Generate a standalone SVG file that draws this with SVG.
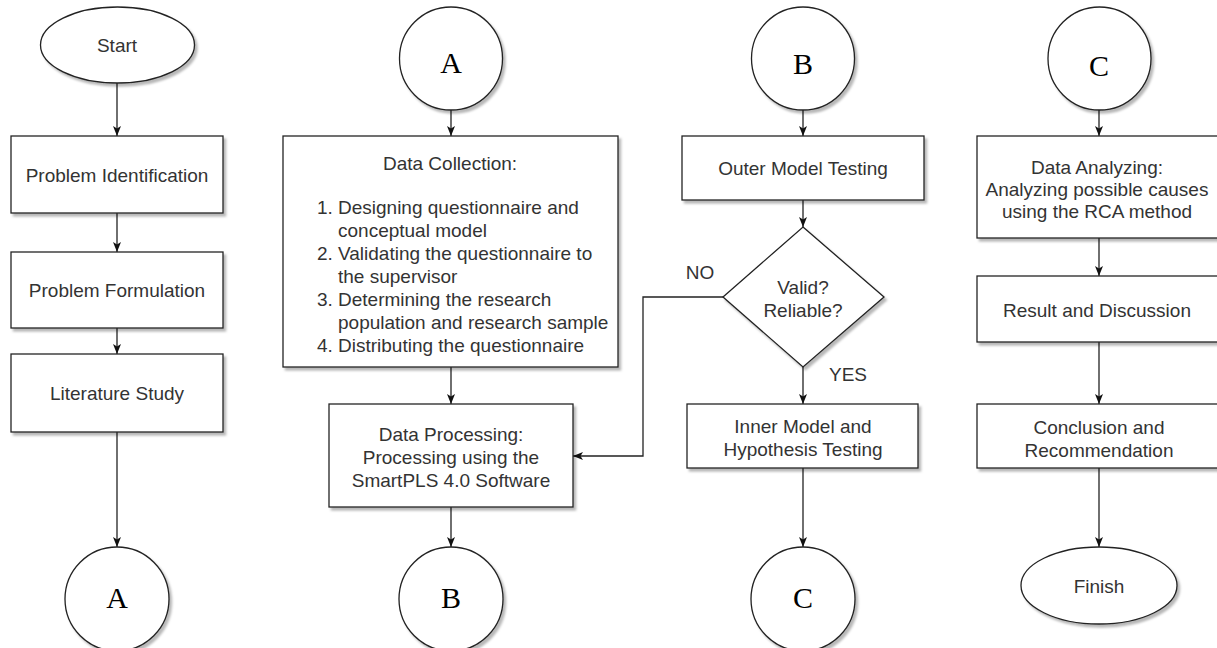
<svg xmlns="http://www.w3.org/2000/svg" width="1217" height="648" viewBox="0 0 1217 648">
<style>
.shape{fill:#fff;stroke:#222;stroke-width:1.3;filter:url(#sh)}
.t{font-family:"Liberation Sans",Arial,sans-serif;font-size:19px;fill:#333;text-anchor:middle}
.tl{font-family:"Liberation Sans",Arial,sans-serif;font-size:19px;fill:#333}
.L{font-family:"Liberation Serif","Times New Roman",serif;font-size:30px;fill:#000;text-anchor:middle}
.c{fill:none;stroke:#222;stroke-width:1.3;marker-end:url(#ah)}
</style>
<defs>
<filter id="sh" x="-10%" y="-10%" width="130%" height="130%">
<feDropShadow dx="2.5" dy="3" stdDeviation="0.8" flood-color="#000" flood-opacity="0.28"/>
</filter>
<marker id="ah" markerUnits="userSpaceOnUse" markerWidth="10" markerHeight="10" viewBox="0 0 10 10" refX="10" refY="5" orient="auto">
<path d="M0,1 L10,5 L0,9 L2.5,5 Z" fill="#111"/>
</marker>
</defs>
<rect width="1217" height="648" fill="#fff"/>
<g id="connectors">
<path class="c" d="M117,83 V136"/>
<path class="c" d="M117,213 V252"/>
<path class="c" d="M117,328 V354"/>
<path class="c" d="M117,432 V547"/>
<path class="c" d="M451,110 V136"/>
<path class="c" d="M451,367 V404"/>
<path class="c" d="M451,507 V547"/>
<path class="c" d="M803,110 V136"/>
<path class="c" d="M803,200 V227"/>
<path class="c" d="M803,367 V404"/>
<path class="c" d="M803,468 V547"/>
<path class="c" d="M723,297 H643 V456 H573"/>
<path class="c" d="M1099,110 V136"/>
<path class="c" d="M1099,238 V276"/>
<path class="c" d="M1099,342 V404"/>
<path class="c" d="M1099,468 V547"/>
<text class="t" x="700" y="279">NO</text>
<text class="t" x="848" y="381">YES</text>
</g>
<g id="start"><ellipse class="shape" cx="117.5" cy="45" rx="77" ry="38"/><text class="t" x="117" y="52">Start</text></g>
<g id="problem-identification"><rect class="shape" x="11" y="136" width="212" height="77"/><text class="t" x="117" y="182">Problem Identification</text></g>
<g id="problem-formulation"><rect class="shape" x="11" y="252" width="212" height="76"/><text class="t" x="117" y="297">Problem Formulation</text></g>
<g id="literature-study"><rect class="shape" x="11" y="354" width="212" height="78"/><text class="t" x="117" y="400">Literature Study</text></g>
<g id="conn-a-out"><circle class="shape" cx="117" cy="599" r="52"/><text class="L" x="117" y="608">A</text></g>

<g id="conn-a-in"><circle class="shape" cx="451" cy="58.5" r="51.5"/><text class="L" x="451" y="73">A</text></g>
<g id="data-collection"><rect class="shape" x="283" y="136" width="335" height="231"/>
<text class="t" x="450" y="170">Data Collection:</text>
<text class="tl" x="317" y="214">1.</text><text class="tl" x="338" y="214">Designing questionnaire and</text>
<text class="tl" x="338" y="237">conceptual model</text>
<text class="tl" x="317" y="260">2.</text><text class="tl" x="338" y="260">Validating the questionnaire to</text>
<text class="tl" x="338" y="283">the supervisor</text>
<text class="tl" x="317" y="306">3.</text><text class="tl" x="338" y="306">Determining the research</text>
<text class="tl" x="338" y="329">population and research sample</text>
<text class="tl" x="317" y="352">4.</text><text class="tl" x="338" y="352">Distributing the questionnaire</text>
</g>
<g id="data-processing"><rect class="shape" x="329" y="404" width="244" height="103"/>
<text class="t" x="451" y="441">Data Processing:</text>
<text class="t" x="451" y="464">Processing using the</text>
<text class="t" x="451" y="487">SmartPLS 4.0 Software</text></g>
<g id="conn-b-out"><circle class="shape" cx="451" cy="599" r="52"/><text class="L" x="451" y="608">B</text></g>

<g id="conn-b-in"><circle class="shape" cx="803" cy="58.5" r="51.5"/><text class="L" x="803" y="74">B</text></g>
<g id="outer-model"><rect class="shape" x="682" y="136" width="242" height="64"/><text class="t" x="803" y="175">Outer Model Testing</text></g>
<g id="decision"><path class="shape" d="M803,227 L884,297 L803,367 L723,297 Z"/>
<text class="t" x="803" y="294">Valid?</text><text class="t" x="803" y="317">Reliable?</text></g>
<g id="inner-model"><rect class="shape" x="687" y="404" width="231" height="64"/>
<text class="t" x="803" y="433">Inner Model and</text><text class="t" x="803" y="456">Hypothesis Testing</text></g>
<g id="conn-c-out"><circle class="shape" cx="803" cy="599" r="52"/><text class="L" x="803" y="608">C</text></g>

<g id="conn-c-in"><circle class="shape" cx="1099.5" cy="58.5" r="51.5"/><text class="L" x="1099" y="76">C</text></g>
<g id="data-analyzing"><rect class="shape" x="977" y="136" width="244" height="102"/>
<text class="t" x="1097" y="174">Data Analyzing:</text>
<text class="t" x="1097" y="196">Analyzing possible causes</text>
<text class="t" x="1097" y="218">using the RCA method</text></g>
<g id="result-discussion"><rect class="shape" x="977" y="276" width="244" height="66"/><text class="t" x="1097" y="317">Result and Discussion</text></g>
<g id="conclusion"><rect class="shape" x="977" y="404" width="244" height="64"/>
<text class="t" x="1099" y="434">Conclusion and</text><text class="t" x="1099" y="457">Recommendation</text></g>
<g id="finish"><ellipse class="shape" cx="1099" cy="585.5" rx="78" ry="38.5"/><text class="t" x="1099" y="593">Finish</text></g>
</svg>
